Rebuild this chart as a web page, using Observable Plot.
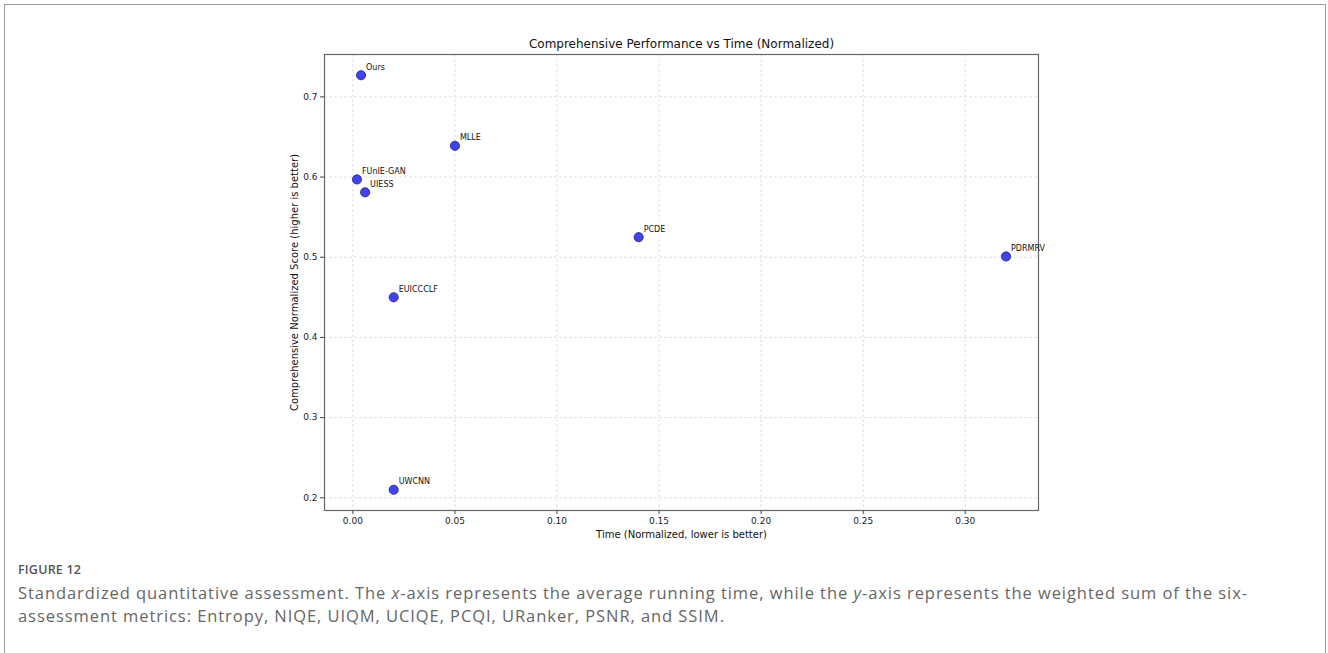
<!DOCTYPE html>
<html>
<head>
<meta charset="utf-8">
<script src="https://cdn.jsdelivr.net/npm/d3@7"></script>
<script src="https://cdn.jsdelivr.net/npm/@observablehq/plot@0.6"></script>
<style>
  html, body { margin: 0; padding: 0; background: #fff; }
  body { width: 1328px; height: 653px; overflow: hidden; position: relative; }
  #box { position: absolute; left: 4px; top: 4px; width: 1322px; height: 700px; border: 1px solid #9a9a9a; box-sizing: border-box; }
  #chart { position: absolute; left: 0; top: 0; }
  #caption { position: absolute; left: 18px; top: 561px; width: 1300px; font-family: "Open Sans", Lato, sans-serif; color: #666; }
  #fig { font-size: 12.5px; font-weight: 600; color: #555; letter-spacing: 0.2px; margin-bottom: 3px; }
  #txt { font-size: 16.5px; line-height: 23px; font-weight: 400; white-space: nowrap; }
</style>
</head>
<body>
<div id="box"></div>
<div id="chart"></div>
<div id="caption">
  <div id="fig">FIGURE 12</div>
  <div id="txt"><span id="l1">Standardized quantitative assessment. The <i>x</i>-axis represents the average running time, while the <i>y</i>-axis represents the weighted sum of the six-</span><br><span id="l2">assessment metrics: Entropy, NIQE, UIQM, UCIQE, PCQI, URanker, PSNR, and SSIM.</span></div>
</div>
<script>
const methods = ["Ours", "MLLE", "FUnIE-GAN", "UIESS", "PCDE", "PDRMRV", "EUICCCLF", "UWCNN"];
const times   = [0.004, 0.050, 0.002, 0.006, 0.140, 0.320, 0.020, 0.020];
const scores  = [0.727, 0.639, 0.597, 0.581, 0.525, 0.501, 0.450, 0.210];
const xTicks = [0, 0.05, 0.10, 0.15, 0.20, 0.25, 0.30];
const yTicks = [0.2, 0.3, 0.4, 0.5, 0.6, 0.7];

const data = methods.map((m, i) => ({name: m, time: times[i], score: scores[i]}));

const xmin = d3.min(times), xmax = d3.max(times);
const ymin = d3.min(scores), ymax = d3.max(scores);
const xpad = (xmax - xmin) * 0.05, ypad = (ymax - ymin) * 0.05;

const font = "DejaVu Sans, sans-serif";
const chart = Plot.plot({
  width: 1328,
  height: 545,
  marginLeft: 324,
  marginRight: 290,
  marginTop: 54,
  marginBottom: 35,
  style: {fontFamily: font, fontSize: "9px", color: "#222", background: "transparent"},
  x: {domain: [xmin - xpad, xmax + xpad]},
  y: {domain: [ymin - ypad, ymax + ypad]},
  marks: [
    Plot.gridX(xTicks, {stroke: "#c8c8c8", strokeOpacity: 0.8, strokeDasharray: "3,2", strokeWidth: 0.7}),
    Plot.gridY(yTicks, {stroke: "#c8c8c8", strokeOpacity: 0.8, strokeDasharray: "3,2", strokeWidth: 0.7}),
    Plot.axisX({ticks: xTicks, tickFormat: d3.format(".2f"), tickSize: 4, tickPadding: 3, stroke: "#444", fontSize: 9, label: null}),
    Plot.axisY({ticks: yTicks, tickFormat: d3.format(".1f"), tickSize: 4, tickPadding: 3, stroke: "#444", fontSize: 9, label: null}),
    Plot.frame({stroke: "#666", strokeWidth: 1.2}),
    Plot.dot(data, {x: "time", y: "score", r: 4.6, fill: "#4242f5", stroke: "#262660", strokeWidth: 0.8}),
    Plot.text(data, {x: "time", y: "score", text: "name", textAnchor: "start", dx: 5, dy: -8, fontSize: 8, fill: "#111"}),
    Plot.text(["Comprehensive Performance vs Time (Normalized)"], {frameAnchor: "top", lineAnchor: "middle", dy: -10, fontSize: 12, fill: "#111"}),
    Plot.text(["Time (Normalized, lower is better)"], {frameAnchor: "bottom", lineAnchor: "middle", dy: 24, fontSize: 10, fill: "#111"}),
    Plot.text(["Comprehensive Normalized Score (higher is better)"], {frameAnchor: "left", textAnchor: "middle", lineAnchor: "middle", dx: -30, rotate: -90, fontSize: 10, fill: "#111"})
  ]
});
document.getElementById("chart").appendChild(chart);
// fit caption line 1 to the reference width
const l1 = document.getElementById("l1");
const target = 1230;
const w = l1.getBoundingClientRect().width;
const chars = l1.textContent.length;
document.getElementById("txt").style.letterSpacing = ((target - w) / chars).toFixed(3) + "px";
</script>
</body>
</html>
